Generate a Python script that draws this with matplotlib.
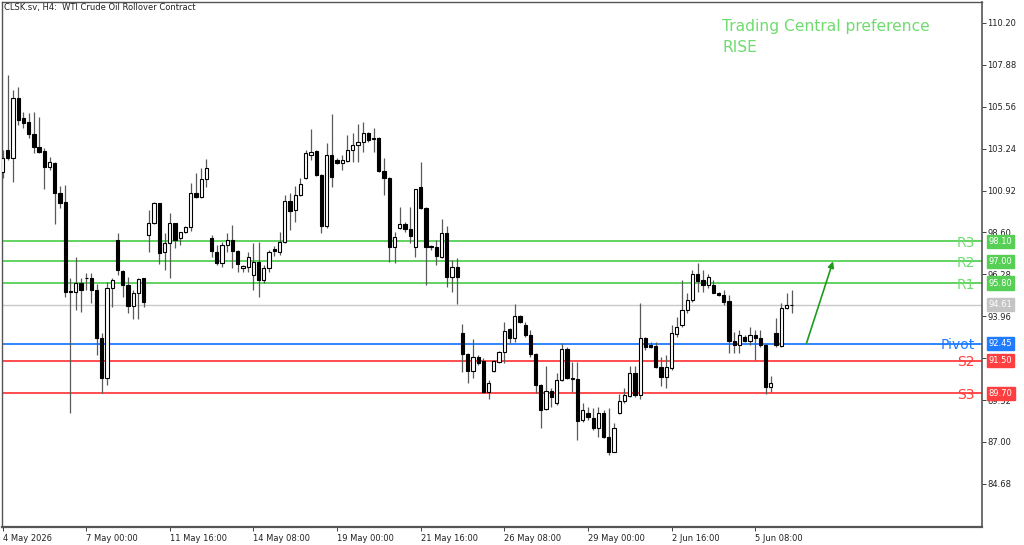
import matplotlib
matplotlib.use("Agg")
import matplotlib.pyplot as plt
import matplotlib.transforms as mtransforms

# ---------------- data (H4 candles) ----------------
opens = [101.95, 103.17, 102.72, 106.04, 104.94, 104.72, 104.05, 103.33, 103.11, 102.22,
         102.45, 100.78, 100.29, 95.36, 95.30, 95.80, 96.05, 96.08, 95.41, 92.76,
         90.54, 95.52, 98.18, 96.47, 95.69, 94.53, 95.25, 96.05, 98.46, 99.12,
         100.23, 97.52, 98.02, 99.12, 98.29, 98.62, 98.90, 100.78, 100.56, 101.56,
         98.29, 97.52, 96.91, 97.91, 98.18, 97.57, 96.63, 96.69, 96.24, 96.96,
         95.97, 96.63, 97.68, 97.52, 98.07, 100.34, 99.84, 100.67, 101.61, 102.89,
         103.11, 101.78, 98.96, 102.89, 102.61, 102.45, 102.56, 103.17, 103.44, 103.61,
         104.11, 103.80, 103.83, 102.00, 101.61, 97.79, 98.85, 99.07, 98.79, 97.79,
         101.12, 99.95, 97.79, 97.79, 97.24, 98.57, 96.13, 96.69, 93.03, 91.87,
         90.93, 91.70, 91.48, 89.77, 90.93, 91.43, 91.98, 93.26, 92.76, 93.97,
         93.47, 92.92, 91.87, 90.15, 88.82, 89.82, 89.16, 90.43, 92.15, 90.49,
         90.49, 88.22, 88.60, 88.33, 87.77, 88.60, 87.27, 86.44, 88.60, 89.27,
         89.54, 90.82, 89.60, 92.76, 92.37, 92.31, 91.15, 90.60, 91.10, 92.98,
         93.47, 94.31, 94.86, 96.30, 95.97, 95.69, 95.69, 95.25, 95.14, 94.80,
         92.59, 92.37, 92.81, 92.59, 92.92, 92.76, 92.37, 90.04, 93.03, 92.31,
         94.42, 94.58]
highs = [103.17, 107.32, 106.49, 106.65, 105.27, 105.21, 105.27, 104.99, 103.28, 102.78,
         102.50, 101.17, 101.23, 96.08, 97.24, 96.08, 96.35, 96.35, 95.75, 93.03,
         95.86, 96.08, 98.57, 96.52, 96.13, 95.41, 96.08, 96.10, 99.84, 100.29,
         100.25, 98.57, 99.68, 99.15, 98.65, 98.96, 101.34, 101.89, 102.17, 102.67,
         98.46, 97.91, 98.07, 98.57, 99.01, 97.63, 96.78, 97.52, 98.02, 98.07,
         96.80, 97.63, 97.85, 98.62, 100.67, 100.78, 101.17, 101.61, 103.17, 104.33,
         103.17, 101.84, 103.55, 105.16, 102.70, 102.89, 103.99, 104.11, 104.61, 104.72,
         104.16, 104.38, 103.89, 102.72, 101.67, 98.62, 100.01, 99.18, 100.01, 101.00,
         102.50, 100.01, 97.90, 98.18, 99.35, 98.96, 97.07, 97.18, 93.53, 91.93,
         92.70, 91.81, 91.65, 90.43, 91.54, 92.04, 93.64, 93.30, 94.64, 94.03,
         93.64, 93.20, 91.93, 90.21, 91.21, 90.00, 90.82, 92.48, 92.26, 91.43,
         91.43, 89.16, 88.94, 88.88, 88.94, 88.77, 88.88, 88.05, 89.66, 89.99,
         91.21, 91.21, 94.69, 92.80, 92.54, 92.54, 91.70, 91.81, 93.47, 93.92,
         95.97, 95.25, 96.52, 96.91, 96.52, 96.30, 95.97, 95.30, 95.41, 95.14,
         93.09, 93.20, 92.92, 93.36, 93.20, 93.20, 92.40, 90.65, 93.86, 94.69,
         95.25, 95.41]
lows = [101.61, 102.61, 101.39, 104.55, 104.38, 103.83, 103.00, 103.00, 101.00, 102.06,
        99.07, 99.95, 95.02, 88.60, 94.31, 94.19, 95.41, 94.69, 91.81, 89.71,
        90.15, 94.47, 96.24, 95.02, 94.14, 93.81, 93.81, 94.47, 97.52, 99.05,
        96.85, 96.52, 96.08, 97.74, 97.91, 98.55, 98.68, 100.50, 100.50, 101.12,
        97.24, 96.80, 96.69, 97.52, 96.63, 96.41, 96.41, 96.41, 95.41, 95.02,
        95.80, 96.41, 97.30, 97.35, 98.02, 98.74, 99.18, 100.60, 101.55, 102.61,
        101.73, 98.57, 98.85, 101.12, 102.40, 102.06, 102.50, 102.50, 102.50, 103.05,
        103.61, 103.05, 101.95, 100.67, 96.96, 96.91, 98.79, 98.62, 98.02, 97.24,
        99.90, 95.69, 97.63, 96.80, 97.18, 95.58, 95.30, 94.64, 90.87, 90.27,
        90.54, 91.26, 89.71, 89.38, 90.87, 91.37, 91.37, 92.48, 92.54, 93.58,
        92.81, 91.70, 89.71, 87.77, 88.77, 88.94, 89.05, 90.37, 90.48, 89.77,
        87.11, 88.11, 88.22, 87.66, 87.27, 87.22, 86.28, 86.44, 88.55, 89.16,
        89.49, 89.49, 89.38, 92.09, 92.20, 91.07, 90.10, 89.99, 90.98, 92.81,
        93.36, 94.14, 94.75, 95.30, 95.30, 95.52, 95.25, 95.08, 94.58, 91.92,
        91.92, 91.92, 92.54, 92.37, 91.54, 92.26, 89.66, 89.77, 92.26, 92.26,
        94.36, 94.14]
closes = [102.72, 102.72, 106.04, 104.83, 104.66, 104.05, 103.33, 103.05, 102.22, 102.50,
          100.78, 100.23, 95.30, 95.30, 95.80, 95.41, 96.10, 95.41, 92.76, 90.54,
          95.52, 95.97, 96.52, 95.69, 94.53, 95.25, 96.02, 94.75, 99.12, 100.23,
          97.46, 98.02, 99.12, 98.18, 98.62, 98.90, 100.78, 100.56, 101.56, 102.17,
          97.57, 96.91, 97.91, 98.18, 97.57, 96.85, 96.74, 97.24, 96.96, 95.97,
          96.63, 97.52, 97.57, 98.07, 100.34, 99.79, 100.67, 101.28, 103.00, 103.05,
          101.78, 98.96, 102.89, 101.67, 102.45, 102.61, 103.17, 103.44, 103.61, 104.11,
          103.72, 103.85, 102.00, 101.61, 97.79, 98.35, 99.07, 98.79, 98.40, 101.00,
          99.95, 97.79, 97.85, 97.30, 98.57, 96.13, 96.69, 96.13, 91.87, 90.93,
          91.70, 91.37, 89.77, 90.27, 91.48, 91.98, 93.14, 92.76, 93.97, 93.64,
          92.92, 91.87, 90.15, 88.77, 89.82, 89.49, 90.43, 92.15, 90.54, 90.54,
          88.16, 88.77, 88.38, 87.77, 88.60, 87.27, 86.44, 87.77, 89.27, 89.60,
          90.82, 89.60, 92.76, 92.26, 92.26, 91.15, 90.60, 91.15, 93.03, 93.36,
          94.31, 94.86, 96.30, 95.91, 95.69, 96.13, 95.25, 95.14, 94.75, 92.59,
          92.37, 92.92, 92.59, 92.92, 92.76, 92.37, 90.04, 90.27, 92.37, 94.42,
          94.61, 94.61]

x_tick_labels = ["4 May 2026", "7 May 00:00", "11 May 16:00", "14 May 08:00",
                 "19 May 00:00", "21 May 16:00", "26 May 08:00", "29 May 00:00",
                 "2 Jun 16:00", "5 Jun 08:00"]
y_ticks = [110.20, 107.88, 105.56, 103.24, 100.92, 98.60, 96.28, 93.96, 91.64,
           89.32, 87.00, 84.68]

level_names = ["R3", "R2", "R1", "Pivot", "S2", "S3"]
level_values = [98.10, 97.00, 95.80, 92.45, 91.50, 89.70]
last_price = 94.61

title = "CLSK.sv, H4:  WTI Crude Oil Rollover Contract"
pref_lines = ["Trading Central preference", "RISE"]

# ---------------- styling ----------------
GREEN = "#55d055"
GREEN_TXT = "#6fdc6f"
BLUE = "#1f7bff"
RED = "#ff3f3f"
GRAY = "#c8c8c8"
level_colors = [GREEN, GREEN, GREEN, BLUE, RED, RED]
level_text_colors = [GREEN_TXT, GREEN_TXT, GREEN_TXT, BLUE, RED, RED]

plt.rcParams['font.family'] = ['DejaVu Sans']

fig = plt.figure(figsize=(10.24, 5.45), dpi=100)
fig.patch.set_facecolor("white")
ax = fig.add_axes([2 / 1024, (545 - 527) / 545, 980 / 1024, 525 / 545])
blend = mtransforms.blended_transform_factory(ax.transAxes, ax.transData)

n = len(opens)
xs = list(range(n))

# wicks
ax.vlines(xs, lows, highs, colors="#5a5a5a", linewidth=0.9, zorder=2)
# bodies
bw = 0.62
for i in xs:
    o, c = opens[i], closes[i]
    bottom = min(o, c)
    h = abs(c - o)
    if h < 0.02:
        ax.hlines(o, i - bw / 2, i + bw / 2, colors="black", linewidth=1.0, zorder=3)
        continue
    fc = "white" if c >= o else "black"
    ax.bar(i, h, bottom=bottom, width=bw, facecolor=fc, edgecolor="black",
           linewidth=0.8, zorder=3)

# level lines
for name, val, col, tcol in zip(level_names, level_values, level_colors, level_text_colors):
    ax.axhline(val, color=col, linewidth=1.3, zorder=1)
    ax.text(0.9925, val - 0.1, name, transform=blend,
            ha="right", va="center", fontsize=10, color=tcol, zorder=4)
    ax.text(1.0068, val, f"{val:.2f}", transform=blend,
            ha="left", va="center", fontsize=6, color="white", zorder=6, clip_on=False,
            bbox=dict(boxstyle="square,pad=0.25", facecolor=col, edgecolor=col))
ax.axhline(last_price, color=GRAY, linewidth=1.0, zorder=1)
ax.text(1.0068, last_price, f"{last_price:.2f}", transform=blend,
        ha="left", va="center", fontsize=6, color="white", zorder=6, clip_on=False,
        bbox=dict(boxstyle="square,pad=0.25", facecolor="#c4c4c4", edgecolor="#c4c4c4"))

# arrow: pivot -> R2
ax.annotate("", xy=(n + 6.9, level_values[1]), xytext=(n + 1.8, level_values[3]),
            arrowprops=dict(arrowstyle="-|>", color="#1f9a1f", lw=1.2,
                            mutation_scale=9, shrinkA=0, shrinkB=0), zorder=5)

# preference text
ax.text(0.7347, 0.954, pref_lines[0], transform=ax.transAxes, fontsize=11.2,
        color=GREEN_TXT, ha="left", va="center")
ax.text(0.7347, 0.914, pref_lines[1], transform=ax.transAxes, fontsize=11.2,
        color=GREEN_TXT, ha="left", va="center")

# title
ax.text(0.002, 0.989, title, transform=ax.transAxes, fontsize=6, color="#222222",
        ha="left", va="center")

# axes
ax.set_xlim(-0.1, 187.4)
ax.set_ylim(82.29, 111.36)
ax.yaxis.tick_right()
ax.set_yticks(y_ticks)
ax.set_yticklabels([f"{v:.2f}" for v in y_ticks])
ax.tick_params(axis="y", direction="out", length=3, width=0.6, pad=1,
               labelsize=6, colors="#222222")
ax.set_xticks(list(range(0, 16 * len(x_tick_labels), 16)))
ax.set_xticklabels(x_tick_labels, ha="left")
ax.tick_params(axis="x", direction="out", length=3, width=0.6, pad=2,
               labelsize=6, colors="#222222")
for lbl in ax.get_xticklabels():
    lbl.set_horizontalalignment("left")
for s in ax.spines.values():
    s.set_color("#555555")
    s.set_linewidth(1.0)
ax.spines["bottom"].set_linewidth(1.6)
ax.spines["right"].set_linewidth(1.2)

fig.savefig("out.png", dpi=100, facecolor="white")
